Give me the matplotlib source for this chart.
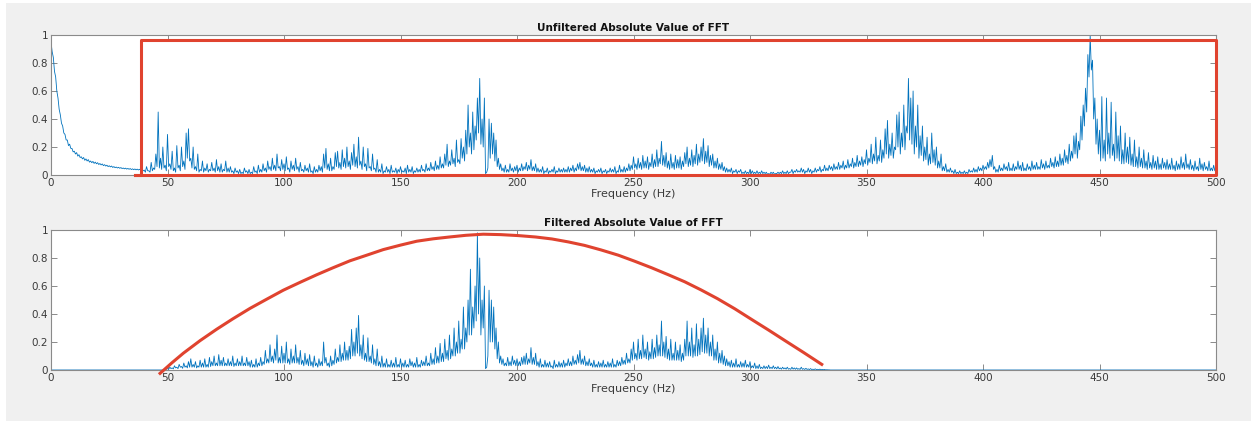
import numpy as np
import matplotlib
matplotlib.use("Agg")
import matplotlib.pyplot as plt
from matplotlib.patches import Rectangle

# ---------------- data ----------------
freq_step = 1.0  # Hz between samples; troughs sit half a step after each sample
unfiltered = [
    0.95, 0.84, 0.70, 0.55, 0.43, 0.35, 0.29, 0.25, 0.22, 0.19,
    0.17, 0.16, 0.145, 0.13, 0.125, 0.115, 0.11, 0.10, 0.097, 0.092,
    0.088, 0.082, 0.079, 0.074, 0.070, 0.066, 0.064, 0.060, 0.057, 0.055,
    0.053, 0.050, 0.049, 0.047, 0.046, 0.044, 0.043, 0.042, 0.041, 0.040,
    0.035, 0.06, 0.03, 0.09, 0.05, 0.15, 0.45, 0.12, 0.20, 0.07,
    0.29, 0.08, 0.17, 0.05, 0.21, 0.07, 0.20, 0.10, 0.30, 0.33,
    0.12, 0.20, 0.06, 0.15, 0.04, 0.10, 0.05, 0.08, 0.04, 0.09,
    0.05, 0.11, 0.06, 0.08, 0.04, 0.10, 0.05, 0.06, 0.03, 0.05,
    0.03, 0.04, 0.02, 0.05, 0.03, 0.04, 0.02, 0.06, 0.03, 0.07,
    0.04, 0.08, 0.05, 0.10, 0.06, 0.12, 0.07, 0.15, 0.06, 0.11,
    0.08, 0.13, 0.05, 0.10, 0.07, 0.12, 0.06, 0.09, 0.04, 0.07,
    0.05, 0.08, 0.03, 0.06, 0.04, 0.07, 0.06, 0.15, 0.19, 0.08,
    0.12, 0.06, 0.16, 0.17, 0.09, 0.18, 0.12, 0.20, 0.10, 0.16,
    0.22, 0.13, 0.27, 0.10, 0.20, 0.08, 0.19, 0.06, 0.15, 0.05,
    0.11, 0.04, 0.08, 0.03, 0.06, 0.04, 0.07, 0.03, 0.05, 0.04,
    0.06, 0.03, 0.05, 0.07, 0.04, 0.06, 0.03, 0.05, 0.04, 0.07,
    0.04, 0.08, 0.05, 0.09, 0.06, 0.10, 0.07, 0.13, 0.08, 0.15,
    0.22, 0.10, 0.18, 0.12, 0.25, 0.11, 0.26, 0.20, 0.32, 0.50,
    0.30, 0.45, 0.35, 0.55, 0.69, 0.40, 0.55, 0.02, 0.40, 0.37,
    0.30, 0.25, 0.12, 0.08, 0.05, 0.07, 0.04, 0.08, 0.05, 0.06,
    0.07, 0.05, 0.08, 0.06, 0.09, 0.07, 0.11, 0.06, 0.08, 0.05,
    0.04, 0.06, 0.03, 0.05, 0.03, 0.04, 0.06, 0.03, 0.05, 0.04,
    0.05, 0.04, 0.06, 0.05, 0.07, 0.05, 0.08, 0.09, 0.06, 0.07,
    0.05, 0.06, 0.04, 0.05, 0.03, 0.04, 0.05, 0.03, 0.04, 0.03,
    0.05, 0.04, 0.06, 0.03, 0.07, 0.04, 0.06, 0.05, 0.08, 0.07,
    0.13, 0.08, 0.12, 0.09, 0.14, 0.10, 0.13, 0.09, 0.15, 0.11,
    0.18, 0.12, 0.24, 0.14, 0.16, 0.10, 0.15, 0.09, 0.14, 0.11,
    0.13, 0.10, 0.16, 0.20, 0.12, 0.18, 0.14, 0.22, 0.15, 0.20,
    0.26, 0.17, 0.21, 0.14, 0.15, 0.10, 0.12, 0.08, 0.09, 0.06,
    0.05, 0.04, 0.05, 0.03, 0.04, 0.03, 0.04, 0.02, 0.03, 0.02,
    0.04, 0.03, 0.02, 0.03, 0.02, 0.03, 0.02, 0.02, 0.01, 0.02,
    0.02, 0.01, 0.02, 0.02, 0.03, 0.02, 0.03, 0.02, 0.04, 0.03,
    0.04, 0.03, 0.05, 0.04, 0.03, 0.05, 0.04, 0.03, 0.05, 0.04,
    0.06, 0.04, 0.07, 0.05, 0.07, 0.06, 0.08, 0.06, 0.09, 0.07,
    0.10, 0.07, 0.11, 0.08, 0.12, 0.09, 0.14, 0.10, 0.13, 0.11,
    0.18, 0.12, 0.22, 0.15, 0.27, 0.14, 0.25, 0.18, 0.33, 0.39,
    0.22, 0.30, 0.20, 0.43, 0.45, 0.30, 0.50, 0.35, 0.69, 0.55,
    0.60, 0.35, 0.50, 0.28, 0.35, 0.20, 0.27, 0.15, 0.30, 0.18,
    0.20, 0.10, 0.15, 0.06, 0.08, 0.04, 0.05, 0.03, 0.04, 0.02,
    0.03, 0.02, 0.03, 0.02, 0.04, 0.03, 0.05, 0.04, 0.06, 0.05,
    0.07, 0.06, 0.09, 0.11, 0.14, 0.06, 0.04, 0.07, 0.05, 0.08,
    0.06, 0.09, 0.05, 0.08, 0.06, 0.10, 0.07, 0.09, 0.05, 0.08,
    0.06, 0.10, 0.07, 0.09, 0.06, 0.11, 0.08, 0.10, 0.07, 0.12,
    0.09, 0.13, 0.10, 0.15, 0.12, 0.18, 0.14, 0.22, 0.17, 0.28,
    0.30, 0.24, 0.42, 0.50, 0.62, 0.86, 1.00, 0.82, 0.55, 0.40,
    0.32, 0.56, 0.25, 0.55, 0.30, 0.52, 0.22, 0.45, 0.28, 0.35,
    0.18, 0.30, 0.20, 0.27, 0.15, 0.25, 0.13, 0.20, 0.12, 0.18,
    0.10, 0.16, 0.09, 0.14, 0.10, 0.13, 0.08, 0.12, 0.09, 0.11,
    0.08, 0.12, 0.07, 0.10, 0.08, 0.13, 0.09, 0.15, 0.08, 0.11,
    0.07, 0.10, 0.06, 0.12, 0.08, 0.09, 0.06, 0.10, 0.05, 0.07,
    0.06,
]
unfiltered_troughs = [
    0.88, 0.74, 0.60, 0.47, 0.37, 0.30, 0.25, 0.21, 0.19, 0.165,
    0.15, 0.135, 0.125, 0.115, 0.105, 0.10, 0.092, 0.088, 0.083, 0.08,
    0.075, 0.072, 0.067, 0.064, 0.06, 0.058, 0.054, 0.052, 0.05, 0.048,
    0.046, 0.044, 0.042, 0.041, 0.039, 0.038, 0.037, 0.036, 0.035, 0.03,
    0.02, 0.03, 0.02, 0.03, 0.04, 0.06, 0.05, 0.04, 0.05, 0.03,
    0.06, 0.04, 0.03, 0.02, 0.05, 0.03, 0.06, 0.04, 0.12, 0.10,
    0.05, 0.04, 0.03, 0.02, 0.03, 0.02, 0.03, 0.02, 0.03, 0.03,
    0.02, 0.03, 0.02, 0.02, 0.03, 0.02, 0.02, 0.02, 0.01, 0.02,
    0.01, 0.01, 0.01, 0.02, 0.01, 0.01, 0.01, 0.02, 0.01, 0.02,
    0.02, 0.03, 0.02, 0.04, 0.03, 0.04, 0.03, 0.05, 0.03, 0.04,
    0.03, 0.04, 0.02, 0.04, 0.03, 0.04, 0.02, 0.03, 0.02, 0.03,
    0.02, 0.02, 0.01, 0.02, 0.02, 0.03, 0.02, 0.05, 0.04, 0.03,
    0.03, 0.04, 0.06, 0.05, 0.04, 0.06, 0.05, 0.06, 0.04, 0.07,
    0.06, 0.05, 0.07, 0.04, 0.06, 0.03, 0.05, 0.03, 0.04, 0.02,
    0.02, 0.02, 0.01, 0.02, 0.02, 0.01, 0.02, 0.02, 0.01, 0.02,
    0.02, 0.02, 0.01, 0.02, 0.02, 0.01, 0.02, 0.02, 0.02, 0.03,
    0.02, 0.03, 0.03, 0.04, 0.03, 0.04, 0.04, 0.05, 0.05, 0.07,
    0.06, 0.07, 0.08, 0.06, 0.09, 0.08, 0.12, 0.10, 0.15, 0.20,
    0.15, 0.18, 0.25, 0.30, 0.22, 0.20, 0.01, 0.05, 0.12, 0.15,
    0.10, 0.06, 0.04, 0.03, 0.02, 0.02, 0.02, 0.03, 0.02, 0.03,
    0.02, 0.03, 0.03, 0.04, 0.03, 0.04, 0.03, 0.03, 0.02, 0.02,
    0.02, 0.01, 0.02, 0.01, 0.02, 0.02, 0.01, 0.02, 0.02, 0.02,
    0.02, 0.02, 0.02, 0.03, 0.02, 0.03, 0.04, 0.03, 0.03, 0.02,
    0.02, 0.02, 0.02, 0.01, 0.02, 0.02, 0.01, 0.02, 0.01, 0.02,
    0.02, 0.02, 0.01, 0.02, 0.02, 0.02, 0.02, 0.03, 0.03, 0.04,
    0.05, 0.04, 0.05, 0.04, 0.05, 0.05, 0.04, 0.06, 0.05, 0.06,
    0.06, 0.08, 0.07, 0.06, 0.05, 0.04, 0.05, 0.04, 0.05, 0.05,
    0.04, 0.06, 0.08, 0.06, 0.07, 0.06, 0.08, 0.07, 0.09, 0.10,
    0.08, 0.09, 0.06, 0.07, 0.05, 0.05, 0.04, 0.04, 0.03, 0.02,
    0.02, 0.02, 0.01, 0.02, 0.01, 0.02, 0.01, 0.01, 0.01, 0.01,
    0.01, 0.01, 0.01, 0.01, 0.01, 0.01, 0.01, 0.005, 0.005, 0.01,
    0.005, 0.01, 0.01, 0.01, 0.01, 0.01, 0.01, 0.02, 0.01, 0.02,
    0.02, 0.02, 0.02, 0.01, 0.02, 0.02, 0.01, 0.02, 0.02, 0.03,
    0.02, 0.03, 0.03, 0.03, 0.04, 0.03, 0.04, 0.04, 0.04, 0.05,
    0.04, 0.05, 0.05, 0.06, 0.05, 0.06, 0.06, 0.07, 0.06, 0.08,
    0.07, 0.09, 0.08, 0.10, 0.08, 0.10, 0.09, 0.12, 0.15, 0.12,
    0.14, 0.12, 0.18, 0.20, 0.15, 0.20, 0.18, 0.30, 0.25, 0.22,
    0.15, 0.20, 0.12, 0.14, 0.10, 0.11, 0.07, 0.08, 0.09, 0.07,
    0.05, 0.05, 0.03, 0.03, 0.02, 0.02, 0.02, 0.01, 0.01, 0.01,
    0.01, 0.01, 0.01, 0.01, 0.02, 0.02, 0.02, 0.02, 0.03, 0.03,
    0.04, 0.04, 0.05, 0.06, 0.04, 0.02, 0.02, 0.03, 0.03, 0.04,
    0.03, 0.03, 0.03, 0.03, 0.04, 0.04, 0.03, 0.03, 0.03, 0.04,
    0.03, 0.04, 0.04, 0.04, 0.04, 0.05, 0.04, 0.05, 0.05, 0.06,
    0.05, 0.06, 0.06, 0.07, 0.07, 0.09, 0.08, 0.10, 0.12, 0.15,
    0.12, 0.18, 0.25, 0.35, 0.45, 0.70, 0.75, 0.40, 0.22, 0.15,
    0.10, 0.12, 0.10, 0.15, 0.12, 0.14, 0.10, 0.12, 0.10, 0.08,
    0.08, 0.09, 0.08, 0.07, 0.06, 0.06, 0.05, 0.06, 0.05, 0.05,
    0.04, 0.05, 0.04, 0.05, 0.04, 0.04, 0.04, 0.05, 0.04, 0.04,
    0.04, 0.04, 0.03, 0.04, 0.04, 0.05, 0.04, 0.05, 0.04, 0.04,
    0.03, 0.04, 0.03, 0.04, 0.03, 0.04, 0.03, 0.03, 0.03, 0.03,
]

filtered_start_hz = 48
filtered_band = [
    0.0, 0.005,
    0.01, 0.02, 0.015, 0.03, 0.02, 0.04, 0.025, 0.05, 0.03, 0.06,
    0.08, 0.04, 0.06, 0.03, 0.07, 0.05, 0.08, 0.04, 0.09, 0.06,
    0.10, 0.05, 0.11, 0.07, 0.09, 0.05, 0.08, 0.06, 0.10, 0.05,
    0.08, 0.06, 0.10, 0.05, 0.09, 0.06, 0.07, 0.04, 0.08, 0.05,
    0.09, 0.06, 0.14, 0.08, 0.18, 0.10, 0.15, 0.25, 0.09, 0.17,
    0.12, 0.20, 0.08, 0.15, 0.10, 0.18, 0.09, 0.14, 0.07, 0.12,
    0.08, 0.11, 0.06, 0.10, 0.05, 0.08, 0.06, 0.20, 0.09, 0.05,
    0.10, 0.07, 0.15, 0.09, 0.18, 0.12, 0.20, 0.14, 0.17, 0.29,
    0.20, 0.30, 0.39, 0.18, 0.25, 0.12, 0.23, 0.10, 0.18, 0.08,
    0.15, 0.06, 0.10, 0.05, 0.08, 0.04, 0.07, 0.05, 0.09, 0.04,
    0.08, 0.05, 0.07, 0.04, 0.08, 0.06, 0.05, 0.09, 0.04, 0.07,
    0.06, 0.10, 0.05, 0.12, 0.08, 0.16, 0.10, 0.19, 0.12, 0.22,
    0.14, 0.25, 0.15, 0.30, 0.20, 0.35, 0.22, 0.45, 0.30, 0.50,
    0.72, 0.45, 0.60, 0.98, 0.80, 0.50, 0.60, 0.02, 0.57, 0.50,
    0.45, 0.30, 0.20, 0.10, 0.08, 0.05, 0.09, 0.06, 0.10, 0.07,
    0.08, 0.06, 0.09, 0.10, 0.12, 0.08, 0.16, 0.09, 0.12, 0.06,
    0.08, 0.04, 0.07, 0.05, 0.06, 0.03, 0.07, 0.04, 0.06, 0.05,
    0.07, 0.05, 0.08, 0.06, 0.10, 0.07, 0.11, 0.14, 0.08, 0.10,
    0.06, 0.08, 0.05, 0.07, 0.04, 0.06, 0.05, 0.07, 0.04, 0.06,
    0.05, 0.08, 0.04, 0.07, 0.06, 0.09, 0.07, 0.12, 0.08, 0.15,
    0.20, 0.12, 0.22, 0.14, 0.25, 0.15, 0.20, 0.13, 0.22, 0.16,
    0.25, 0.18, 0.35, 0.20, 0.24, 0.15, 0.22, 0.12, 0.20, 0.14,
    0.18, 0.12, 0.22, 0.35, 0.20, 0.30, 0.18, 0.33, 0.22, 0.30,
    0.37, 0.25, 0.30, 0.20, 0.25, 0.15, 0.20, 0.12, 0.14, 0.10,
    0.08, 0.06, 0.07, 0.05, 0.08, 0.04, 0.06, 0.05, 0.07, 0.04,
    0.06, 0.03, 0.05, 0.03, 0.04, 0.02, 0.03, 0.025, 0.035, 0.02,
    0.03, 0.02, 0.025, 0.015, 0.02, 0.015, 0.02, 0.01, 0.02, 0.015,
    0.015, 0.01, 0.02, 0.01, 0.012, 0.008, 0.01, 0.006, 0.008, 0.005,
    0.006, 0.004, 0.004, 0.002, 0.001, 0.0,
]
filtered_troughs = [
    0.0, 0.005,
    0.005, 0.01, 0.008, 0.015, 0.01, 0.02, 0.012, 0.02, 0.015, 0.02,
    0.02, 0.02, 0.015, 0.02, 0.02, 0.02, 0.02, 0.02, 0.025, 0.03,
    0.03, 0.03, 0.03, 0.03, 0.03, 0.03, 0.03, 0.03, 0.025, 0.03,
    0.03, 0.03, 0.03, 0.03, 0.03, 0.02, 0.02, 0.02, 0.02, 0.03,
    0.03, 0.04, 0.05, 0.05, 0.06, 0.05, 0.07, 0.05, 0.05, 0.05,
    0.05, 0.05, 0.04, 0.05, 0.05, 0.05, 0.04, 0.04, 0.03, 0.04,
    0.03, 0.03, 0.02, 0.03, 0.02, 0.03, 0.03, 0.05, 0.03, 0.02,
    0.03, 0.04, 0.05, 0.06, 0.06, 0.07, 0.07, 0.07, 0.08, 0.10,
    0.10, 0.12, 0.10, 0.08, 0.07, 0.06, 0.06, 0.05, 0.04, 0.03,
    0.03, 0.02, 0.02, 0.02, 0.02, 0.02, 0.02, 0.02, 0.02, 0.02,
    0.02, 0.02, 0.02, 0.02, 0.03, 0.02, 0.02, 0.02, 0.02, 0.03,
    0.03, 0.03, 0.03, 0.04, 0.04, 0.05, 0.05, 0.06, 0.06, 0.08,
    0.07, 0.08, 0.10, 0.10, 0.12, 0.12, 0.15, 0.15, 0.20, 0.25,
    0.25, 0.30, 0.35, 0.40, 0.25, 0.30, 0.01, 0.10, 0.20, 0.20,
    0.15, 0.08, 0.05, 0.04, 0.03, 0.03, 0.03, 0.03, 0.04, 0.03,
    0.03, 0.03, 0.04, 0.04, 0.04, 0.05, 0.04, 0.04, 0.03, 0.02,
    0.02, 0.02, 0.02, 0.02, 0.02, 0.01, 0.02, 0.02, 0.02, 0.02,
    0.02, 0.03, 0.03, 0.03, 0.04, 0.04, 0.05, 0.04, 0.04, 0.03,
    0.03, 0.03, 0.02, 0.02, 0.02, 0.02, 0.02, 0.02, 0.02, 0.02,
    0.02, 0.02, 0.02, 0.03, 0.03, 0.04, 0.04, 0.05, 0.05, 0.07,
    0.08, 0.07, 0.08, 0.08, 0.09, 0.08, 0.07, 0.08, 0.08, 0.09,
    0.10, 0.10, 0.10, 0.09, 0.08, 0.07, 0.07, 0.07, 0.07, 0.07,
    0.06, 0.07, 0.10, 0.10, 0.10, 0.09, 0.10, 0.10, 0.11, 0.13,
    0.12, 0.12, 0.10, 0.10, 0.07, 0.07, 0.05, 0.05, 0.04, 0.03,
    0.03, 0.02, 0.02, 0.02, 0.02, 0.02, 0.02, 0.02, 0.02, 0.02,
    0.015, 0.015, 0.01, 0.01, 0.01, 0.01, 0.01, 0.01, 0.01, 0.01,
    0.01, 0.008, 0.008, 0.006, 0.008, 0.006, 0.006, 0.005, 0.006, 0.005,
    0.005, 0.004, 0.005, 0.004, 0.004, 0.003, 0.003, 0.003, 0.003, 0.002,
    0.002, 0.002, 0.001, 0.001, 0.0,
]

# rectangular window drawn on the unfiltered plot
box_f = [36, 38.6, 38.6, 500, 500, 36]
box_v = [0, 0, 0.964, 0.964, 0, 0]

# curved window drawn on the filtered plot
win_f = [46.8, 51.8, 56.8, 64, 71, 78, 85.4, 92.5, 99.7, 107, 114, 121,
         128.3, 135.5, 142.6, 150, 157, 164, 171, 178, 185.5, 193, 200.6,
         208, 215, 222, 229, 236, 243.5, 250.5, 257.8, 265, 272, 279, 286,
         293.5, 300.8, 308, 315, 323, 330.8]
win_v = [-0.024, 0.05, 0.12, 0.21, 0.29, 0.365, 0.44, 0.505, 0.57, 0.627,
         0.68, 0.73, 0.78, 0.82, 0.86, 0.892, 0.92, 0.937, 0.95, 0.962, 0.97,
         0.967, 0.96, 0.95, 0.936, 0.915, 0.89, 0.858, 0.82, 0.777, 0.73,
         0.68, 0.63, 0.572, 0.51, 0.437, 0.36, 0.285, 0.21, 0.125, 0.04]

x_ticks = [0, 50, 100, 150, 200, 250, 300, 350, 400, 450, 500]
y_ticks = [0, 0.2, 0.4, 0.6, 0.8, 1]
y_ticklabels = ["0", "0.2", "0.4", "0.6", "0.8", "1"]
titles = ["Unfiltered Absolute Value of FFT", "Filtered Absolute Value of FFT"]
xlabel = "Frequency (Hz)"

# ---------------- build arrays ----------------
def interleave(peaks, troughs, start_hz):
    n = len(peaks)
    xs, ys = [], []
    for i in range(n):
        xs.append(start_hz + i * freq_step)
        ys.append(peaks[i])
        if i < len(troughs):
            xs.append(start_hz + (i + 0.5) * freq_step)
            ys.append(troughs[i])
    return np.array(xs), np.array(ys)

fx_u, fy_u = interleave(unfiltered, unfiltered_troughs, 0)
fx_b, fy_b = interleave(filtered_band, filtered_troughs, filtered_start_hz)
fx_f = np.concatenate([[0], fx_b, [500]])
fy_f = np.concatenate([[0], fy_b, [0]])

# ---------------- figure ----------------
W, H = 1251, 421
fig = plt.figure(figsize=(W / 100, H / 100), dpi=100, facecolor="white")
fig.patches.append(Rectangle((6 / W, 0), 1 - 6 / W, 1 - 3 / H,
                             transform=fig.transFigure, facecolor="#f0f0f0",
                             edgecolor="none", zorder=-10))

blue = "#0072bd"
red = "#e0432f"
axcol = "#8a8a8a"
txtcol = "#3a3a3a"

def style(ax, title):
    ax.set_facecolor("white")
    ax.set_xlim(0, 500)
    ax.set_ylim(0, 1)
    ax.set_xticks(x_ticks)
    ax.set_xticklabels([str(t) for t in x_ticks])
    ax.set_yticks(y_ticks)
    ax.set_yticklabels(y_ticklabels)
    ax.tick_params(direction="in", length=4, width=0.7, colors=axcol,
                   labelcolor=txtcol, labelsize=7.5, top=True, right=True,
                   pad=2)
    for s in ax.spines.values():
        s.set_color(axcol)
        s.set_linewidth(0.8)
    ax.set_title(title, fontsize=7.5, fontweight="bold", pad=3, color="#111111")
    ax.set_xlabel(xlabel, fontsize=8, color=txtcol, labelpad=1)

ax1 = fig.add_axes([51 / W, (H - 175) / H, 1165 / W, 140 / H])
ax1.plot(fx_u, fy_u, color=blue, lw=0.6)
ax1.plot(box_f, box_v, color=red, lw=2.2, clip_on=False, zorder=5)
style(ax1, titles[0])

ax2 = fig.add_axes([51 / W, (H - 370) / H, 1165 / W, 140 / H])
ax2.plot(fx_f, fy_f, color=blue, lw=0.6)
ax2.plot(win_f, win_v, color=red, lw=2.2, clip_on=False, zorder=5)
style(ax2, titles[1])

fig.savefig("out.png", dpi=100, facecolor=fig.get_facecolor())
